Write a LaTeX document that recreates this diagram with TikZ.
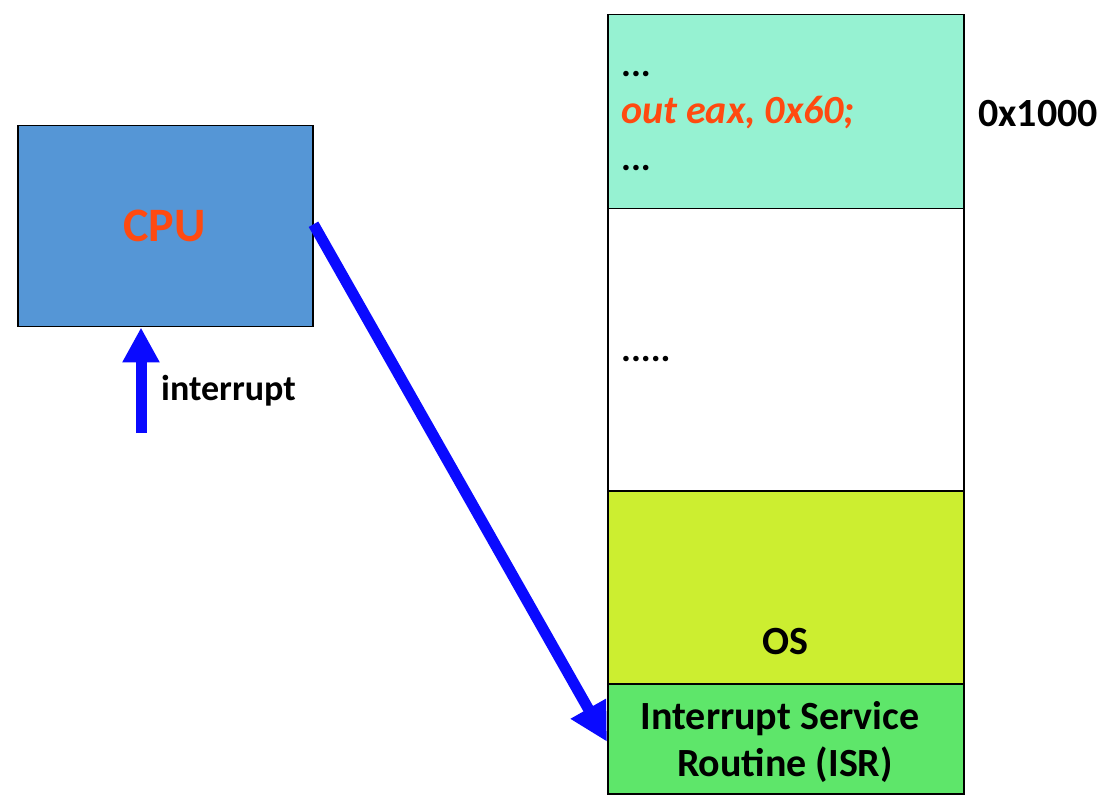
\documentclass[tikz,border=0pt]{standalone}
\usepackage{fontspec}
\setmainfont{Carlito}
\usetikzlibrary{arrows.meta}
\definecolor{cpublue}{HTML}{5596D6}
\definecolor{codegreen}{HTML}{96F2D2}
\definecolor{osyellow}{HTML}{CCEE30}
\definecolor{isrgreen}{HTML}{5EE66A}
\definecolor{redtxt}{HTML}{FF4A10}
\definecolor{arrowblue}{HTML}{0A0AFF}
\tikzset{
  box/.style={draw=black, line width=1.5pt, rectangle, inner sep=0pt},
  bigarrow/.style={arrowblue, line width=11pt, -{Triangle[length=38pt,width=38pt]}},
  lbl/.style={font=\fontsize{40}{47}\selectfont\bfseries, inner sep=0pt},
  dots/.style={anchor=base west, inner sep=0pt, font=\fontsize{37}{40}\selectfont\bfseries},
}
\begin{document}
\begin{tikzpicture}[x=1pt,y=-1pt]
\useasboundingbox[fill=white] (0,0) rectangle (1109,802);
% CPU
\node[box, fill=cpublue, minimum width=295pt, minimum height=201pt, anchor=north west] (cpu) at (17,125) {};
\node[text=redtxt, anchor=base, inner sep=0pt, font=\fontsize{48}{50}\selectfont\bfseries] (cputxt) at (164.5,242) {CPU};
% memory rows
\node[box, fill=codegreen, minimum width=356pt, minimum height=194pt, anchor=north west] (code) at (607,14) {};
\node[box, fill=white, minimum width=356pt, minimum height=282pt, anchor=north west] (mid) at (607,208) {};
\node[box, fill=osyellow, minimum width=356pt, minimum height=193pt, anchor=north west] (os) at (607,490) {};
\node[box, fill=isrgreen, minimum width=356pt, minimum height=110pt, anchor=north west] (isr) at (607,683) {};
% texts
\node[dots] (d1) at (621,77) {...};
\node[anchor=base west, inner sep=0pt, text=redtxt, font=\fontsize{40}{42}\selectfont\bfseries\itshape] (code1) at (621,124) {out eax, 0x60;};
\node[dots] (d2) at (621,171) {...};
\node[lbl, anchor=base west] (addr) at (978,127) {0x1000};
\node[dots] (d3) at (621,362) {.....};
\node[lbl, anchor=base] (ostxt) at (785,654) {OS};
\node[lbl, anchor=base] (isr1) at (780,729) {Interrupt Service};
\node[lbl, anchor=base] (isr2) at (785,776) {Routine (ISR)};
\node[anchor=base west, inner sep=0pt, font=\fontsize{36}{38}\selectfont\bfseries] (intlbl) at (161,401) {interrupt};
% arrows
\coordinate (intsrc) at (141,433);
\draw[arrowblue, line width=11pt, -{Triangle[length=35pt,width=35pt]}] (intsrc) -- (cpu.south -| intsrc);
\draw[bigarrow] ([yshift=2pt]cpu.east) -- ([yshift=-3pt]isr.west);
\end{tikzpicture}
\end{document}
